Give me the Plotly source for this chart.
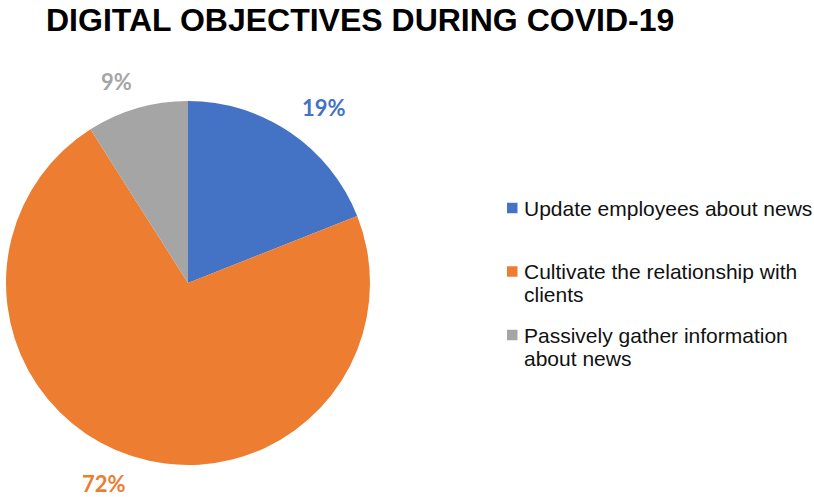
import math
import textwrap
import plotly.graph_objects as go

# Chart data
labels = ["Update employees about news",
          "Cultivate the relationship with clients",
          "Passively gather information about news"]
values = [19, 72, 9]
colors = ["#4472C4", "#ED7D31", "#A5A5A5"]
title_text = "DIGITAL OBJECTIVES DURING COVID-19"

W, H = 814, 497

# Pie placement (pixels)
PCX, PCY, R = 188, 283, 182


def px_x(x):
    return x / W


def px_y(y):
    return 1 - y / H


fig = go.Figure()
fig.add_trace(go.Pie(
    labels=labels,
    values=values,
    marker=dict(colors=colors, line=dict(width=0)),
    sort=False,
    direction="clockwise",
    rotation=0,
    textinfo="none",
    hoverinfo="label+percent",
    showlegend=False,
    domain=dict(x=[px_x(PCX - R), px_x(PCX + R)],
                y=[px_y(PCY + R), px_y(PCY - R)]),
))

annotations = []
shapes = []

# Percentage labels outside each slice: the label box's inner corner sits
# a fixed gap beyond the rim, along the slice's mid-angle.
LABEL_GAP, CHAR_W, HALF_H = 20, 11, 8
total = sum(values)
cum = 0
for v, c in zip(values, colors):
    mid = (cum + v / 2) / total * 2 * math.pi
    cum += v
    txt = f"{round(v / total * 100)}%"
    sx, sy = math.sin(mid), -math.cos(mid)
    hw = CHAR_W * len(txt) / 1.5
    lx = PCX + (R + LABEL_GAP) * sx + math.copysign(hw, sx)
    ly = PCY + (R + LABEL_GAP) * sy + math.copysign(HALF_H, sy)
    annotations.append(dict(
        x=px_x(lx), y=px_y(ly), xref="paper", yref="paper",
        text=txt, showarrow=False,
        xanchor="center", yanchor="middle",
        font=dict(family="Lato", size=22, color=c, weight="bold"),
    ))

# Legend on the right, built from labels and colours
LEG_X, LEG_Y0, ROW_STEP, LINE_STEP = 507, 208, 63.5, 23
for i, (lab, c) in enumerate(zip(labels, colors)):
    y0 = LEG_Y0 + ROW_STEP * i
    shapes.append(dict(
        type="rect", xref="paper", yref="paper",
        x0=px_x(LEG_X), x1=px_x(LEG_X + 10.5),
        y0=px_y(y0 + 5.25), y1=px_y(y0 - 5.25),
        fillcolor=c, line=dict(width=0),
    ))
    for j, line in enumerate(textwrap.wrap(lab, width=31)):
        annotations.append(dict(
            x=px_x(LEG_X + 15), y=px_y(y0 + LINE_STEP * j),
            xref="paper", yref="paper", text=line, showarrow=False,
            xanchor="left", yanchor="middle",
            font=dict(family="Liberation Sans, Arial", size=21, color="#111111"),
        ))

fig.update_layout(
    width=W, height=H,
    margin=dict(l=0, r=0, t=0, b=0),
    paper_bgcolor="white",
    plot_bgcolor="white",
    title=dict(
        text=title_text,
        x=px_x(46), xanchor="left", xref="paper",
        y=px_y(20), yanchor="middle", yref="paper",
        font=dict(family="Liberation Sans, Arial", size=32, color="black", weight="bold"),
    ),
    annotations=annotations,
    shapes=shapes,
)

fig.write_html("out.html")
